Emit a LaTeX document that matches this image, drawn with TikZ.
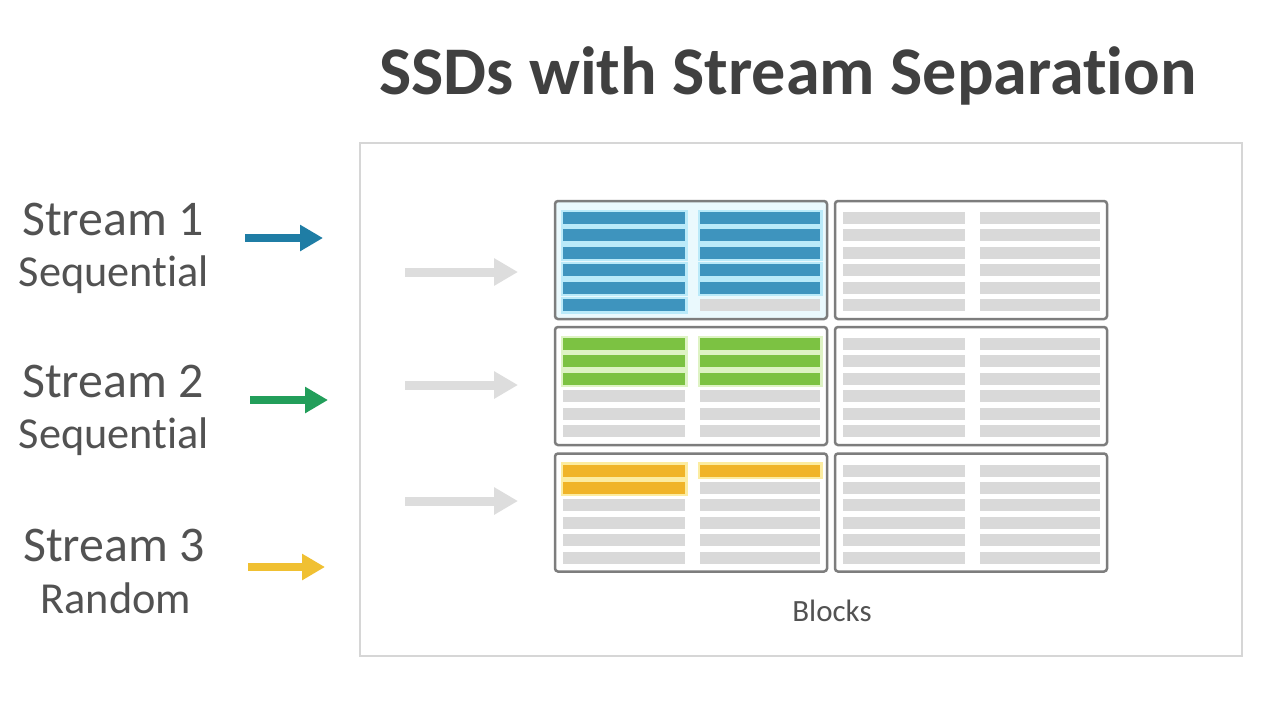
\documentclass[tikz,border=0pt]{standalone}
\usepackage{fontspec}
\setmainfont{Carlito}[Ligatures=CommonOff]
\usepackage{tikz}
\usetikzlibrary{positioning, arrows.meta, calc}
\definecolor{titlegray}{RGB}{64,64,64}
\definecolor{textgray}{RGB}{82,82,82}
\definecolor{framegray}{RGB}{214,214,214}
\definecolor{blockgray}{RGB}{125,125,125}
\definecolor{cellgray}{RGB}{217,217,217}
\definecolor{arrowgray}{RGB}{221,221,221}
\definecolor{ssdblue}{RGB}{62,148,190}
\definecolor{ssdblueglow}{RGB}{186,234,249}
\definecolor{ssdgreen}{RGB}{124,194,66}
\definecolor{ssdgreenglow}{RGB}{222,243,196}
\definecolor{ssdyellow}{RGB}{240,180,40}
\definecolor{ssdyellowglow}{RGB}{252,236,160}
\definecolor{streamblue}{RGB}{31,125,165}
\definecolor{streamgreen}{RGB}{34,158,90}
\definecolor{streamyellow}{RGB}{240,192,50}

% six rows of cells in one block: block, used rows left, used rows right, colour
\newcommand{\blockcells}[4]{%
  \foreach \i in {0,...,5}{
    \ifnum\i<#2\relax\def\lcol{#4}\else\def\lcol{cellgray}\fi
    \ifnum\i<#3\relax\def\rcol{#4}\else\def\rcol{cellgray}\fi
    \path[\lcol\space cell] ($(#1.north west)+(8,{11+17.4*\i})$) rectangle ++(122,12);
    \path[\rcol\space cell] ($(#1.north west)+(145,{11+17.4*\i})$) rectangle ++(120,12);
  }%
}

\begin{document}
\begin{tikzpicture}[
  x=0.1mm, y=-0.1mm,
  title/.style={font=\fontsize{19.4pt}{23pt}\selectfont\bfseries, text=titlegray, anchor=base, inner sep=0},
  streamname/.style={font=\fontsize{14.2pt}{17pt}\selectfont, text=textgray, anchor=base, inner sep=0},
  streamkind/.style={font=\fontsize{12.6pt}{15pt}\selectfont, text=textgray, anchor=base, inner sep=0},
  blocklabel/.style={font=\fontsize{8.8pt}{11pt}\selectfont, text=textgray, anchor=base, inner sep=0},
  frame/.style={draw=framegray, line width=0.2mm, fill=white, minimum width=88.2mm, minimum height=51.3mm, inner sep=0},
  block/.style={draw=blockgray, line width=0.25mm, rounded corners=0.3mm, fill=white,
    minimum width=27.2mm, minimum height=11.8mm, inner sep=0, outer sep=0},
  cellgray cell/.style={fill=cellgray},
  ssdblue cell/.style={fill=ssdblue, preaction={draw=ssdblueglow, line width=0.5mm}},
  ssdgreen cell/.style={fill=ssdgreen, preaction={draw=ssdgreenglow, line width=0.5mm}},
  ssdyellow cell/.style={fill=ssdyellow, preaction={draw=ssdyellowglow, line width=0.5mm}},
  streamarrow/.style={-{Triangle[length=2.3mm,width=2.5mm]}, line width=0.85mm, draw=#1},
  feedarrow/.style={-{Triangle[length=2.4mm,width=2.6mm]}, line width=0.9mm, draw=arrowgray}
]
\useasboundingbox[fill=white] (0,0) rectangle (1280,720);

\node[title] (title) at (788,94) {SSDs with Stream Separation};

\node[streamname] (s1) at (113,235) {Stream 1};
\node[streamkind] (k1) at (114,286) {Sequential};
\node[streamname] (s2) at (113,397) {Stream 2};
\node[streamkind] (k2) at (114,448) {Sequential};
\node[streamname] (s3) at (114,561) {Stream 3};
\node[streamkind] (k3) at (116,613) {Random};

\coordinate (in1) at (245,238);
\coordinate (out1) at (323,238);
\coordinate (in2) at (250,400);
\coordinate (out2) at (328,400);
\coordinate (in3) at (248,567);
\coordinate (out3) at (325,567);
\draw[streamarrow=streamblue] (in1) -- (out1);
\draw[streamarrow=streamgreen] (in2) -- (out2);
\draw[streamarrow=streamyellow] (in3) -- (out3);

\node[frame] (ssd) at (801,399.5) {};

\node[block, fill=ssdblueglow!30] (b11) at (691,260) {};
\node[block, right=0.8mm of b11] (b12) {};
\node[block, below=0.8mm of b11] (b21) {};
\node[block, right=0.8mm of b21] (b22) {};
\node[block, below=0.85mm of b21] (b31) {};
\node[block, right=0.8mm of b31] (b32) {};

\blockcells{b11}{6}{5}{ssdblue}
\blockcells{b12}{0}{0}{cellgray}
\blockcells{b21}{3}{3}{ssdgreen}
\blockcells{b22}{0}{0}{cellgray}
\blockcells{b31}{2}{1}{ssdyellow}
\blockcells{b32}{0}{0}{cellgray}

\node[blocklabel] (blk) at (832,621) {Blocks};

\coordinate (g1a) at (405,272);
\coordinate (g1b) at (518,272);
\coordinate (g2a) at (405,385);
\coordinate (g2b) at (518,385);
\coordinate (g3a) at (405,501);
\coordinate (g3b) at (518,501);
\draw[feedarrow] (g1a) -- (g1b);
\draw[feedarrow] (g2a) -- (g2b);
\draw[feedarrow] (g3a) -- (g3b);
\end{tikzpicture}
\end{document}
